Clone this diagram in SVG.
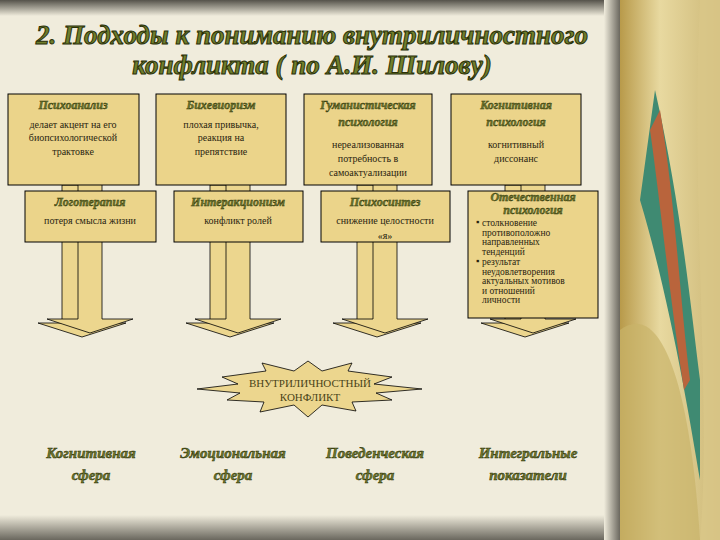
<svg xmlns="http://www.w3.org/2000/svg" width="720" height="540" viewBox="0 0 720 540">
<defs>
<linearGradient id="top" x1="0" y1="0" x2="0" y2="1"><stop offset="0" stop-color="#55524a"/><stop offset="1" stop-color="#f0ecdc"/></linearGradient>
<linearGradient id="bot" x1="0" y1="0" x2="0" y2="1"><stop offset="0" stop-color="#f0ecdc"/><stop offset="1" stop-color="#6a675e"/></linearGradient>
<linearGradient id="side" x1="0" y1="0" x2="1" y2="0"><stop offset="0" stop-color="#f0ecdc"/><stop offset="1" stop-color="#6a675e"/></linearGradient>
<linearGradient id="deco" x1="0" y1="0" x2="1" y2="0"><stop offset="0" stop-color="#b89a4a"/><stop offset="0.4" stop-color="#e8d9a0"/><stop offset="1" stop-color="#cdb877"/></linearGradient>
<g id="arr">
<path d="M-28,0 h34 v138 h30 l-44,14 l-44,-14 h24z" fill="#ecd68e" stroke="#000" stroke-width="0.8"/>
<path d="M-12,0 h24 v138 h31 l-43,14 l-43,-14 h31z" fill="#ecd68e" stroke="#000" stroke-width="0.8" transform="translate(0,-4)"/>
</g>
</defs>
<style>
text{font-family:"Liberation Serif","Times New Roman","DejaVu Serif",serif}
.box{fill:#ebd48a;stroke:#000;stroke-width:1}
.hd{font-style:italic;font-weight:bold;font-size:12px;fill:#6f7a2e;stroke:#2d3208;stroke-width:0.4;text-anchor:middle}
.tx{font-size:10px;fill:#2a2410;text-anchor:middle}
.lt{font-size:9.5px;fill:#2a2410}
.ttl{font-style:italic;font-weight:bold;font-size:27px;fill:#6f7e2c;stroke:#2a3008;stroke-width:1;text-anchor:middle}
.bl{font-style:italic;font-weight:bold;font-size:15px;fill:#6f7a2e;stroke:#2d3208;stroke-width:0.5;text-anchor:middle}
.cf{font-size:11px;fill:#4a4418;text-anchor:middle}
</style>
<rect width="720" height="540" fill="#f0ecdc"/>
<rect width="620" height="16" fill="url(#top)"/>
<rect y="515" width="620" height="25" fill="url(#bot)"/>
<rect x="604" width="16" height="540" fill="url(#side)"/>
<rect x="620" width="100" height="540" fill="url(#deco)"/>
<path d="M655,90 C680,200 690,300 700,380 L700,480 C690,420 670,300 640,200 Z" fill="#3f8a72"/>
<path d="M660,110 C675,200 680,300 690,380 L684,390 C670,300 660,200 650,130 Z" fill="#b9643c"/>
<path d="M700,0 L720,0 L720,540 L700,540 C712,400 690,200 700,0Z" fill="#d9c788" opacity="0.8"/>
<path d="M620,330 C660,300 690,380 700,540 L620,540Z" fill="#c9b46a" opacity="0.7"/>

<text class="ttl" x="312" y="44">2. Подходы к пониманию внутриличностного</text>
<text class="ttl" x="312" y="74">конфликта ( по А.И. Шилову)</text>

<g id="connectors">
<use href="#arr" transform="translate(90,185)"/>
<use href="#arr" transform="translate(238,185)"/>
<use href="#arr" transform="translate(385,185)"/>
<use href="#arr" transform="translate(533,185)"/>
</g>

<g id="n1"><rect class="box" x="8" y="94" width="131" height="91"/>
<text class="hd" x="73" y="109">Психоанализ</text>
<text class="tx" x="73" y="128">делает акцент на его</text><text class="tx" x="73" y="141">биопсихологической</text><text class="tx" x="73" y="155">трактовке</text></g>
<g id="n2"><rect class="box" x="156" y="94" width="130" height="91"/>
<text class="hd" x="221" y="109">Бихевиоризм</text>
<text class="tx" x="221" y="128">плохая привычка,</text><text class="tx" x="221" y="141">реакция на</text><text class="tx" x="221" y="155">препятствие</text></g>
<g id="n3"><rect class="box" x="304" y="94" width="128" height="91"/>
<text class="hd" x="368" y="109">Гуманистическая</text><text class="hd" x="368" y="126">психология</text>
<text class="tx" x="368" y="148">нереализованная</text><text class="tx" x="368" y="162">потребность в</text><text class="tx" x="368" y="176">самоактуализации</text></g>
<g id="n4"><rect class="box" x="451" y="94" width="130" height="91"/>
<text class="hd" x="516" y="109">Когнитивная</text><text class="hd" x="516" y="126">психология</text>
<text class="tx" x="516" y="148">когнитивный</text><text class="tx" x="516" y="162">диссонанс</text></g>

<g id="n5"><rect class="box" x="25" y="191" width="131" height="51"/>
<text class="hd" x="90" y="206">Логотерапия</text><text class="tx" x="90" y="224">потеря смысла жизни</text></g>
<g id="n6"><rect class="box" x="174" y="191" width="129" height="51"/>
<text class="hd" x="238" y="206">Интеракционизм</text><text class="tx" x="238" y="224">конфликт ролей</text></g>
<g id="n7"><rect class="box" x="321" y="191" width="129" height="51"/>
<text class="hd" x="385" y="206">Психосинтез</text><text class="tx" x="385" y="224">снижение целостности</text><text class="tx" x="385" y="239">«я»</text></g>
<g id="n8"><rect class="box" x="468" y="191" width="130" height="127"/>
<text class="hd" x="533" y="201" font-size="10">Отечественная</text><text class="hd" x="533" y="214" font-size="10">психология</text>
<text class="lt" x="476" y="225">▪</text><text class="lt" x="482" y="226">столкновение</text><text class="lt" x="482" y="235.5">противоположно</text><text class="lt" x="482" y="245">направленных</text><text class="lt" x="482" y="254.5">тенденций</text>
<text class="lt" x="476" y="264">▪</text><text class="lt" x="482" y="265">результат</text><text class="lt" x="482" y="274.5">неудовлетворения</text><text class="lt" x="482" y="284">актуальных мотивов</text><text class="lt" x="482" y="293.5">и отношений</text><text class="lt" x="482" y="303">личности</text></g>

<g id="conflict">
<path d="M308,361 L322,371 L352,363 L348,371 L392,377 L374,384 L422,389 L376,393 L392,400 L352,402 L356,411 L322,405 L308,417 L294,405 L260,412 L264,402 L227,400 L240,393 L197,389 L238,384 L222,377 L266,371 L262,363 L294,371 Z" fill="#ecd68e" stroke="#000" stroke-width="0.8"/>
<text class="cf" x="310" y="387">ВНУТРИЛИЧНОСТНЫЙ</text>
<text class="cf" x="310" y="401">КОНФЛИКТ</text>
</g>

<g id="n9"><text class="bl" x="91" y="458">Когнитивная</text><text class="bl" x="91" y="480">сфера</text></g>
<g id="n10"><text class="bl" x="233" y="458">Эмоциональная</text><text class="bl" x="233" y="480">сфера</text></g>
<g id="n11"><text class="bl" x="375" y="458">Поведенческая</text><text class="bl" x="375" y="480">сфера</text></g>
<g id="n12"><text class="bl" x="528" y="458">Интегральные</text><text class="bl" x="528" y="480">показатели</text></g>
</svg>
